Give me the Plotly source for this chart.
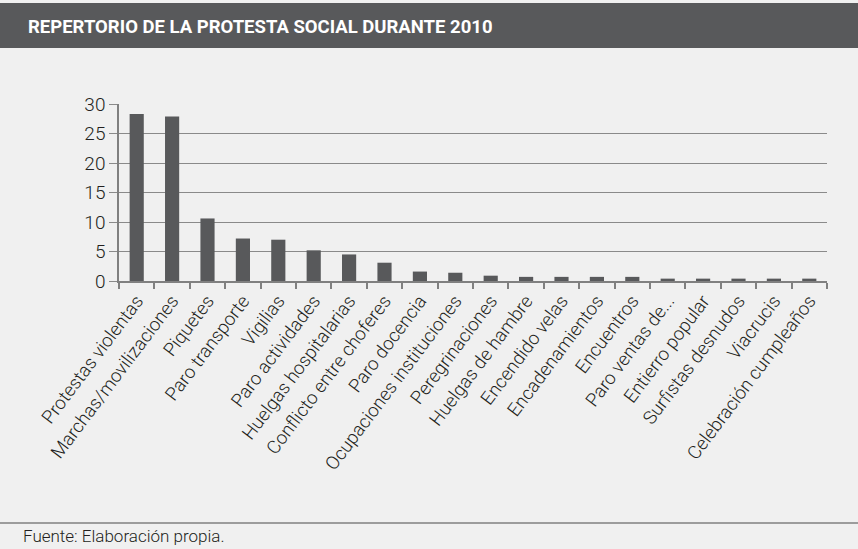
import plotly.graph_objects as go

categorias = [
    "Protestas violentas", "Marchas/movilizaciones", "Piquetes", "Paro transporte",
    "Vigilias", "Paro actividades", "Huelgas hospitalarias", "Conflicto entre choferes",
    "Paro docencia", "Ocupaciones instituciones", "Peregrinaciones", "Huelgas de hambre",
    "Encendido velas", "Encadenamientos", "Encuentros", "Paro ventas de...",
    "Entierro popular", "Surfistas desnudos", "Viacrucis", "Celebración cumpleaños",
]
valores = [28.3, 27.9, 10.6, 7.2, 7.0, 5.2, 4.5, 3.1, 1.6, 1.4,
           0.9, 0.7, 0.7, 0.7, 0.7, 0.4, 0.4, 0.4, 0.4, 0.4]
y_ticks = [0, 5, 10, 15, 20, 25, 30]

titulo = "REPERTORIO DE LA PROTESTA SOCIAL DURANTE 2010"
fuente = "Fuente: Elaboración propia."

W, H = 858, 549
L, R, T, B = 119, 31, 104, 268
PW, PH = W - L - R, H - T - B

def px(x):
    return (x - L) / PW

def py(y):
    return (H - B - y) / PH

FONT = "Roboto, Liberation Sans, sans-serif"
BG = "#f0f0f0"
DARK = "#58595b"
TXT = "#231f20"

fig = go.Figure(go.Bar(x=categorias, y=valores, marker=dict(color=DARK, line=dict(width=0)), width=0.4))

fig.update_layout(
    width=W, height=H,
    margin=dict(l=L, r=R, t=T, b=B),
    paper_bgcolor=BG, plot_bgcolor=BG,
    showlegend=False,
    font=dict(family=FONT, color=TXT),
    xaxis=dict(
        type="category", tickangle=-53, tickfont=dict(size=18.5, family=FONT, color=TXT, weight=300),
        ticks="outside", tickson="boundaries", ticklen=6, tickcolor="#808080", tickwidth=1.5,
        showline=True, linecolor="#808080", linewidth=1.5, showgrid=False,
    ),
    yaxis=dict(
        range=[0, 30], tickvals=y_ticks, tickfont=dict(size=19, family=FONT, color=TXT, weight=300),
        ticks="outside", ticklen=8, tickcolor="#8a8a8a",
        showline=True, linecolor="#808080", linewidth=1.5,
        showgrid=True, gridcolor="#8a8a8a", gridwidth=1, zeroline=False,
    ),
    shapes=[
        dict(type="rect", xref="paper", yref="paper", x0=px(0), x1=px(W), y0=py(48), y1=py(3),
             fillcolor=DARK, line=dict(width=0), layer="below"),
        dict(type="line", xref="paper", yref="paper", x0=px(0), x1=px(W), y0=py(523), y1=py(523),
             line=dict(color="#808080", width=1.5)),
    ],
    annotations=[
        dict(text="<b>" + titulo + "</b>", xref="paper", yref="paper", x=px(26), y=py(27),
             xanchor="left", yanchor="middle", showarrow=False,
             font=dict(size=18.5, color="white", family=FONT)),
        dict(text=fuente, xref="paper", yref="paper", x=px(21), y=py(536),
             xanchor="left", yanchor="middle", showarrow=False,
             font=dict(size=17, color=TXT, family=FONT, weight=300)),
    ],
)

fig.write_html("out.html", config={"displayModeBar": False},
               post_script="document.body.style.margin='0';")
